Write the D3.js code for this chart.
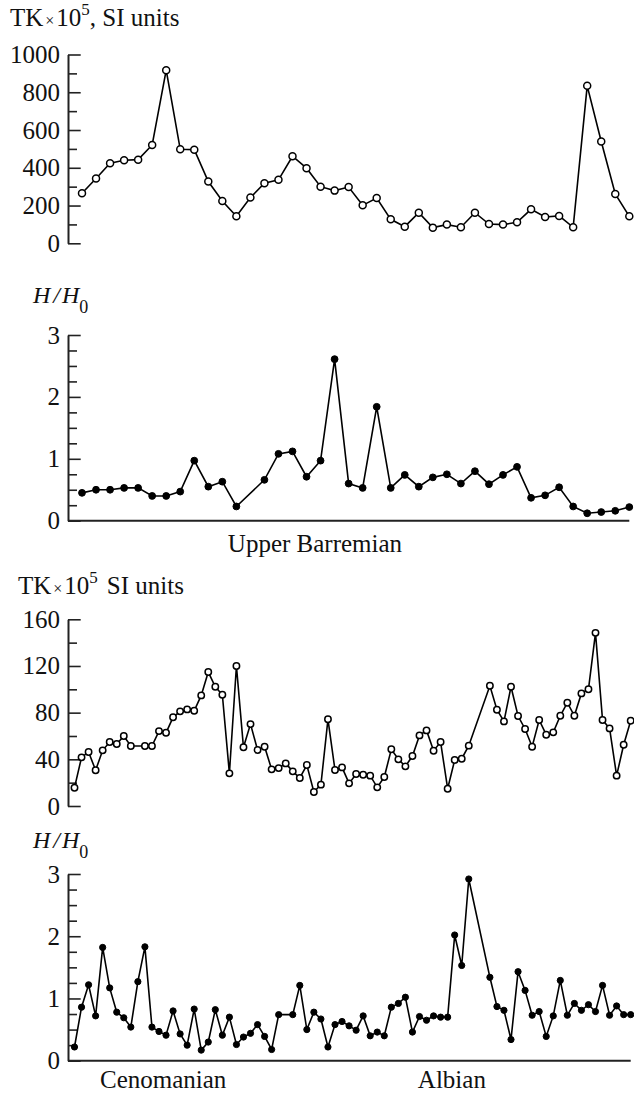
<!DOCTYPE html>
<html>
<head>
<meta charset="utf-8">
<script src="https://cdn.jsdelivr.net/npm/d3@7"></script>
<style>
body { margin: 0; background: #fff; }
svg text { font-family: 'Liberation Serif', 'Times New Roman', 'DejaVu Serif', serif; fill: #111; }
</style>
</head>
<body>
<div id="chart_div"></div>
<script>
// sample numbers along the sections
var barremian_samples = [1,2,3,4,5,6,7,8,9,10,11,12,13,14,15,16,17,18,19,20,
  21,22,23,24,25,26,27,28,29,30,31,32,33,34,35,36,37,38,39,40];
var albian_samples = [1,2,3,4,5,6,7,8,9,10,11,12,13,14,15,16,17,18,19,20,
  21,22,23,24,25,26,27,28,29,30,31,32,33,34,35,36,37,38,39,40,
  41,42,43,44,45,46,47,48,49,50,51,52,53,54,55,56,57,58,59,60,
  61,62,63,64,65,66,67,68,69,70,71,72,73,74,75,76,77,78,79,80];

// Upper Barremian: magnetic susceptibility (TK x 10^5 SI) and H/H0
var barremian_tk = [265,343,424,440,443,521,917,498,496,327,224,143,242,318,336,461,398,300,279,298,
  201,240,127,88,162,83,99,85,162,102,99,111,180,139,145,85,834,539,261,143];
var barremian_h = [0.45,0.50,0.50,0.53,0.53,0.40,0.40,0.47,0.97,0.55,0.63,0.23,null,0.66,1.08,1.12,0.71,0.97,2.61,0.60,
  0.53,1.84,0.53,0.74,0.55,0.70,0.75,0.60,0.80,0.59,0.74,0.87,0.37,0.41,0.54,0.23,0.12,0.14,0.16,0.22];

// Cenomanian - Albian
var albian_tk = [15.7,41.7,46.3,30.6,47.7,54.8,53.1,60,51.4,null,51.4,51.4,64.2,62.8,76,81.1,82.8,81.6,94.8,114.8,
  102.2,95.3,28,120,50.3,70.2,48,50.8,31.4,32.5,36.5,29.7,24,35.1,12,18.3,74.3,30.8,33.1,19.4,
  27.4,26.8,26,16,24.8,48.6,40,34,42.8,60.5,64.8,47.4,54.8,14.8,39.4,40.5,51.7,null,null,103,
  82.5,72.5,102.2,77.1,66,50.8,73.7,61.1,63.1,77.3,88.5,77.3,96.5,100,148.4,73.7,66.5,26,52.5,73];
var albian_h = [0.22,0.86,1.22,0.72,1.82,1.17,0.78,0.69,0.54,1.27,1.83,0.54,0.47,0.41,0.80,0.43,0.25,0.83,0.17,0.30,
  0.82,0.41,0.70,0.26,0.38,0.44,0.58,0.39,0.18,0.74,null,0.74,1.21,0.50,0.78,0.67,0.22,0.58,0.63,0.56,
  0.49,0.72,0.40,0.46,0.40,0.86,0.92,1.02,0.46,0.71,0.65,0.72,0.70,0.70,2.02,1.53,2.92,null,null,1.34,
  0.87,0.81,0.34,1.43,1.13,0.73,0.79,0.39,0.72,1.29,0.73,0.92,0.81,0.90,0.79,1.21,0.73,0.88,0.74,0.74];

// axis ticks
var tk1_ticks = [0,200,400,600,800,1000];
var tk1_minor = [100,300,500,700,900];
var tk2_ticks = [0,40,80,120,160];
var tk2_minor = [20,60,100,140];
var h_ticks = [0,1,2,3];
var h_minor = [0.25,0.5,0.75,1.25,1.5,1.75,2.25,2.5,2.75];

// stage names and where they sit along the section (sample units)
var barremian_stages = ['Upper Barremian'];
var barremian_stage_pos = [17.6];
var albian_stages = ['Cenomanian','Albian'];
var albian_stage_pos = [13.6,54.6];

var svg_width = 634,
  svg_height = 1094,
  axis_x = 68,
  serif = "'Liberation Serif', 'Times New Roman', 'DejaVu Serif', serif";

var svg = d3.select('#chart_div')
  .append('svg')
  .attr('width', svg_width)
  .attr('height', svg_height)
  .style('font-family', serif);

var x_top = d3.scaleLinear().domain([1, 40]).range([82, 629.3]);
var x_bot = d3.scaleLinear().domain([1, 80]).range([74.5, 630.7]);

function drawPanel(cfg) {
  var g = svg.append('g');
  var y = d3.scaleLinear().domain(cfg.domain).range([cfg.y0, cfg.y1]);
  var x = cfg.x;

  // minor ticks
  g.append('g')
    .attr('transform', 'translate(' + axis_x + ',0)')
    .call(d3.axisLeft(y).tickValues(cfg.minor).tickSizeInner(-9).tickSizeOuter(0).tickFormat(''))
    .call(function (a) {
      a.select('.domain').remove();
      a.selectAll('line').attr('stroke', '#222').attr('stroke-width', 1.6);
    });

  // major ticks + labels
  g.append('g')
    .attr('transform', 'translate(' + axis_x + ',0)')
    .call(d3.axisLeft(y).tickValues(cfg.major).tickSizeInner(-12.7).tickSizeOuter(0)
      .tickPadding(8).tickFormat(d3.format('d')))
    .call(function (a) {
      a.attr('font-family', null).attr('font-size', null);
      a.select('.domain').attr('stroke', '#222').attr('stroke-width', 2);
      a.selectAll('line').attr('stroke', '#222').attr('stroke-width', 1.6);
      a.selectAll('text')
        .style('font-family', serif)
        .attr('font-size', 25)
        .attr('fill', '#111');
    });

  // bottom line
  if (cfg.baseline) {
    g.append('line')
      .attr('x1', axis_x)
      .attr('x2', x(cfg.samples[cfg.samples.length - 1]))
      .attr('y1', y(0))
      .attr('y2', y(0))
      .attr('stroke', '#222')
      .attr('stroke-width', 2);
  }

  var pts = cfg.samples
    .map(function (s, i) { return {s: s, v: cfg.values[i]}; })
    .filter(function (d) { return d.v != null; });

  var line = d3.line()
    .x(function (d) { return x(d.s); })
    .y(function (d) { return y(d.v); });

  g.append('path')
    .datum(pts)
    .attr('d', line)
    .attr('fill', 'none')
    .attr('stroke', '#000')
    .attr('stroke-width', 1.6);

  g.selectAll('circle')
    .data(pts)
    .enter().append('circle')
    .attr('cx', function (d) { return x(d.s); })
    .attr('cy', function (d) { return y(d.v); })
    .attr('r', cfg.r)
    .attr('fill', cfg.open ? '#fff' : '#000')
    .attr('stroke', '#000')
    .attr('stroke-width', cfg.open ? 1.5 : 1);

  // stage labels
  if (cfg.stages) {
    cfg.stages.forEach(function (name, i) {
      g.append('text')
        .attr('x', x(cfg.stagePos[i]))
        .attr('y', y(0) + cfg.labelDy)
        .attr('text-anchor', 'middle')
        .attr('font-size', 25)
        .text(name);
    });
  }
}

// TK title with superscript
function tkTitle(xp, yp, comma) {
  var t = svg.append('text')
    .attr('x', xp)
    .attr('y', yp)
    .attr('font-size', 25);
  t.append('tspan').text('TK');
  t.append('tspan').attr('font-size', 16).attr('dx', 2).text('\u00d7');
  t.append('tspan').attr('dx', 2).text('10');
  t.append('tspan').attr('font-size', 17).attr('dy', -11).text('5');
  t.append('tspan').attr('dy', 11).attr('dx', comma ? 0 : 9).text(comma ? ', SI units' : 'SI units');
}

// H/H0 title
function hTitle(xp, yp) {
  var t = svg.append('text')
    .attr('x', xp)
    .attr('y', yp)
    .attr('font-size', 24)
    .attr('font-style', 'italic');
  t.append('tspan').text('H');
  t.append('tspan').attr('dx', 3).text('/');
  t.append('tspan').attr('dx', 2).text('H');
  t.append('tspan').attr('font-style', 'normal').attr('font-size', 18).attr('dy', 10).text('0');
}

tkTitle(10, 26, true);
drawPanel({domain: [0, 1000], y0: 243.3, y1: 54.5, major: tk1_ticks, minor: tk1_minor,
  x: x_top, samples: barremian_samples, values: barremian_tk, open: true, r: 3.5});

hTitle(33, 303);
drawPanel({domain: [0, 3], y0: 520.7, y1: 335, major: h_ticks, minor: h_minor,
  x: x_top, samples: barremian_samples, values: barremian_h, open: false, r: 3.4,
  baseline: true, stages: barremian_stages, stagePos: barremian_stage_pos, labelDy: 31});

tkTitle(18, 594, false);
drawPanel({domain: [0, 160], y0: 806, y1: 619.3, major: tk2_ticks, minor: tk2_minor,
  x: x_bot, samples: albian_samples, values: albian_tk, open: true, r: 3.2});

hTitle(33, 848);
drawPanel({domain: [0, 3], y0: 1060.7, y1: 874, major: h_ticks, minor: h_minor,
  x: x_bot, samples: albian_samples, values: albian_h, open: false, r: 3.1,
  baseline: true, stages: albian_stages, stagePos: albian_stage_pos, labelDy: 27});
</script>
</body>
</html>
